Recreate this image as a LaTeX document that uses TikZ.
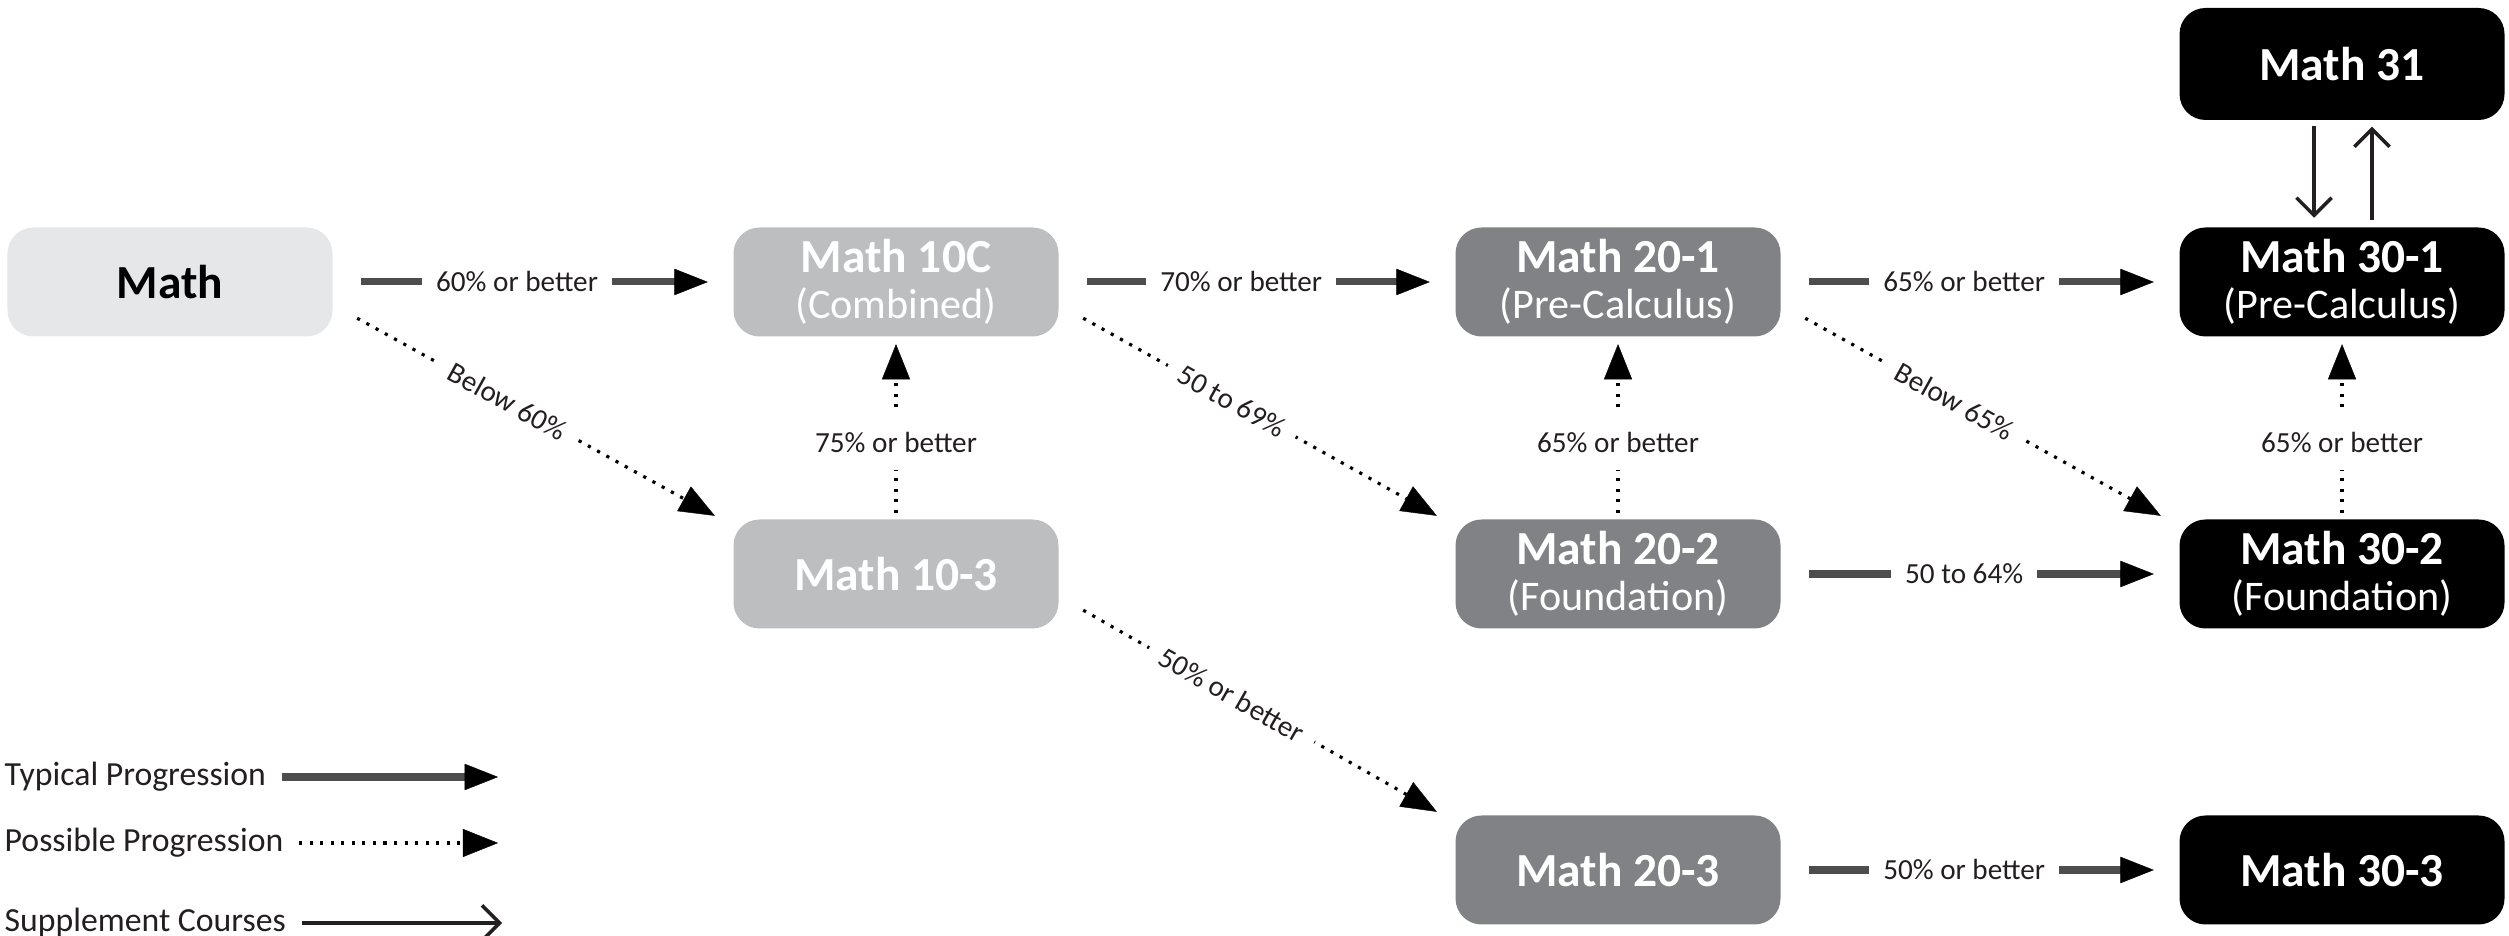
\documentclass[tikz,border=0pt]{standalone}
\usepackage{fontspec}
\setmainfont{Carlito}
\usepackage{xcolor}
\usepackage{tikz}
\usetikzlibrary{positioning,calc,arrows.meta}

\definecolor{lvlzero}{HTML}{E6E7E8}
\definecolor{lvlone}{HTML}{BCBEC0}
\definecolor{lvltwo}{HTML}{808285}
\definecolor{lvlthree}{HTML}{000000}
\definecolor{arrowgrey}{HTML}{4D4D4D}
\definecolor{lbltext}{HTML}{231F20}

\newcommand{\subline}[1]{{\fontsize{12}{13}\selectfont\mdseries #1}}

\tikzset{
  course/.style={rounded corners=0.26cm,minimum width=3.25cm,minimum height=1.09cm,inner sep=0pt,
    align=center,text=white,font=\fontsize{13.5}{13}\selectfont\bfseries},
  crszero/.style={course,fill=lvlzero,text=black},
  crsone/.style={course,fill=lvlone},
  crstwo/.style={course,fill=lvltwo},
  crsthree/.style={course,fill=lvlthree},
  lbl/.style={fill=white,inner xsep=4pt,inner ysep=5pt,text=lbltext,font=\fontsize{8.3}{9}\selectfont},
  legtxt/.style={anchor=west,inner sep=0pt,text=lbltext,font=\fontsize{9.6}{10}\selectfont},
  typical/.style={line width=2pt,draw=arrowgrey,
    -{Triangle[length=9.5pt,width=7.5pt,color=black,fill=black,line width=0.1pt]},
    shorten <=0.28cm,shorten >=0.25cm},
  possible/.style={line width=0.9pt,draw=black,dash pattern=on 0.9pt off 2.1pt,
    -{Triangle[length=10pt,width=8pt,line width=0.1pt]}},
  supp/.style={line width=1pt,draw=lbltext,-{Straight Barb[length=5pt,width=10pt]}}
}

\begin{document}
\begin{tikzpicture}
\useasboundingbox (0,0) rectangle (25.09,9.36);

\node[crszero] (math) at (1.70,6.54) {Math};
\node[crsone] (m10c) at (8.96,6.54) {Math 10C\\\subline{(Combined)}};
\node[crsone] (m103) at (8.96,3.62) {Math 10-3};
\node[crstwo] (m201) at (16.18,6.54) {Math 20-1\\\subline{(Pre-Calculus)}};
\node[crstwo] (m202) at (16.18,3.62) {Math 20-2\\\subline{(Foundation)}};
\node[crstwo] (m203) at (16.18,0.66) {Math 20-3};
\node[crsthree] (m301) at (23.42,6.54) {Math 30-1\\\subline{(Pre-Calculus)}};
\node[crsthree] (m302) at (23.42,3.62) {Math 30-2\\\subline{(Foundation)}};
\node[crsthree] (m303) at (23.42,0.66) {Math 30-3};
\node[crsthree,minimum height=1.12cm] (m31) at (23.42,8.72) {Math 31};

\foreach \a/\b/\ltext in {math/m10c/60\% or better,m10c/m201/70\% or better,m201/m301/65\% or better,m202/m302/50 to 64\%,m203/m303/50\% or better}
\draw[typical] (\a.east) -- (\b.west) node[lbl,pos=0.46] {\ltext};

\foreach \a/\b/\ltext in {math/m103/Below 60\%,m10c/m202/50 to 69\%,m201/m302/Below 65\%,m103/m203/50\% or better}
\draw[possible] ([shift={(0.24,0.19)}]\a.south east) -- ([shift={(-0.18,0.03)}]\b.north west) node[lbl,sloped,pos=0.42] {\ltext};

\foreach \a/\b/\ltext in {m103/m10c/75\% or better,m202/m201/65\% or better,m302/m301/65\% or better}
\draw[possible,shorten <=0.06cm,shorten >=0.07cm] (\a.north) -- (\b.south) node[lbl,pos=0.42] {\ltext};

\draw[supp,shorten <=0.05cm,shorten >=0.09cm] ([xshift=-0.28cm]m31.south) -- ([xshift=-0.28cm]m301.north);
\draw[supp,shorten <=0.07cm,shorten >=0.06cm] ([xshift=0.3cm]m301.north) -- ([xshift=0.3cm]m31.south);

\node[legtxt] (legtyp) at (0.04,1.59) {Typical Progression};
\node[legtxt] (legpos) at (0.04,0.93) {Possible Progression};
\node[legtxt] (legsup) at (0.04,0.13) {Supplement Courses};
\coordinate (legtypend) at (4.98,1.59);
\coordinate (legposend) at (4.98,0.93);
\coordinate (legsupend) at (5.02,0.13);
\draw[typical,shorten <=0.15cm,shorten >=0pt] (legtyp) -- (legtypend);
\draw[possible,shorten <=0.15cm] (legpos) -- (legposend);
\draw[supp,shorten <=0.15cm] (legsup) -- (legsupend);
\end{tikzpicture}
\end{document}
